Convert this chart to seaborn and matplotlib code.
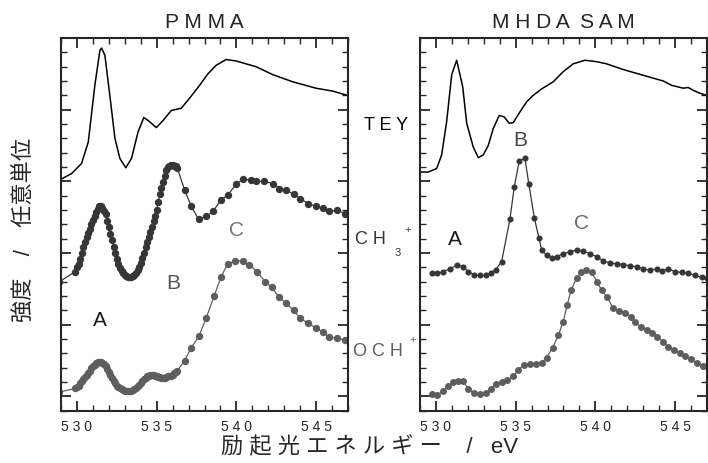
import seaborn as sns
import matplotlib.pyplot as plt
import numpy as np
import pandas as pd
from matplotlib.ticker import MultipleLocator, FuncFormatter

# ---- data (eV, intensity in arbitrary units) ----
# PMMA, TEY
pmma_tey_x = [529.0, 529.67, 530.29, 530.71, 531.12, 531.44, 531.54, 531.75, 532.06, 532.38,
              532.69, 533.06, 533.42, 533.83, 534.19, 534.46, 534.98, 535.4, 535.92, 536.54,
              537.06, 537.69, 538.21, 538.73, 539.35, 539.98, 540.6, 541.23, 542.27, 543.52,
              544.98, 546.02, 546.96]
pmma_tey_y = [3.03, 3.11, 3.25, 3.55, 4.34, 4.83, 4.86, 4.76, 4.20, 3.60,
              3.32, 3.19, 3.32, 3.69, 3.89, 3.85, 3.75, 3.85, 3.99, 4.02,
              4.16, 4.34, 4.50, 4.62, 4.70, 4.68, 4.64, 4.60, 4.49, 4.39,
              4.30, 4.26, 4.20]

# PMMA, CH3+
pmma_ch3_x = [528.9, 529.88, 530.0, 530.1, 530.2, 530.3, 530.4, 530.5, 530.6, 530.7, 530.8,
              530.9, 531.0, 531.1, 531.2, 531.3, 531.4, 531.5, 531.6, 531.7, 531.8,
              531.9, 532.0, 532.1, 532.2, 532.3, 532.4, 532.5, 532.6, 532.7, 532.8,
              532.9, 533.0, 533.1, 533.2, 533.3, 533.4, 533.5, 533.6, 533.7, 533.8,
              533.9, 534.0, 534.1, 534.2, 534.3, 534.4, 534.5, 534.6, 534.7, 534.8,
              534.9, 535.0, 535.1, 535.2, 535.3, 535.4, 535.5, 535.6, 535.7, 535.8,
              535.9, 536.0, 536.1, 536.2, 536.3,
              536.75, 537.17, 537.63, 538.1, 538.52, 539.04, 539.46, 539.98, 540.4, 540.9,
              541.25, 541.7, 542.3, 542.7, 543.1, 543.6, 544.0, 544.5, 545.0, 545.4,
              545.8, 546.3, 546.8]
pmma_ch3_y = [1.60, 1.74, 1.80, 1.85, 1.92, 2.00, 2.08, 2.16, 2.22, 2.28, 2.34,
              2.40, 2.46, 2.52, 2.57, 2.62, 2.65, 2.65, 2.63, 2.59, 2.54,
              2.45, 2.36, 2.27, 2.18, 2.09, 2.00, 1.92, 1.85, 1.79, 1.75,
              1.72, 1.69, 1.68, 1.67, 1.67, 1.67, 1.68, 1.70, 1.72, 1.76,
              1.81, 1.86, 1.93, 2.00, 2.08, 2.16, 2.23, 2.30, 2.37, 2.44,
              2.52, 2.60, 2.71, 2.82, 2.91, 2.99, 3.08, 3.16, 3.20, 3.22,
              3.23, 3.23, 3.22, 3.21, 3.18,
              2.88, 2.65, 2.47, 2.51, 2.58, 2.74, 2.81, 2.96, 3.03, 3.02,
              3.00, 3.00, 2.97, 2.90, 2.88, 2.82, 2.76, 2.69, 2.65, 2.63,
              2.58, 2.60, 2.55]

# PMMA, OCH+
pmma_och_x = [528.9, 529.88, 530.0, 530.1, 530.2, 530.3, 530.4, 530.5, 530.6, 530.7, 530.8,
              530.9, 531.0, 531.1, 531.2, 531.3, 531.4, 531.5, 531.6, 531.7, 531.8,
              531.9, 532.0, 532.1, 532.2, 532.3, 532.4, 532.5, 532.6, 532.7, 532.8,
              532.9, 533.0, 533.1, 533.2, 533.3, 533.4, 533.5, 533.6, 533.7, 533.8,
              533.9, 534.0, 534.1, 534.2, 534.3, 534.4, 534.5, 534.6, 534.7, 534.8,
              534.9, 535.0, 535.1, 535.2, 535.3, 535.4, 535.5, 535.6, 535.7, 535.8,
              535.9, 536.0, 536.1, 536.2, 536.3,
              536.75, 537.17, 537.65, 538.1, 538.6, 539.04, 539.46, 539.94, 540.4, 540.8,
              541.3, 541.8, 542.2, 542.7, 543.1, 543.6, 544.0, 544.5, 545.0, 545.4,
              545.8, 546.3, 546.8]
pmma_och_y = [0.06, 0.11, 0.13, 0.15, 0.18, 0.21, 0.24, 0.27, 0.30, 0.33, 0.36,
              0.39, 0.42, 0.44, 0.46, 0.48, 0.48, 0.48, 0.47, 0.45, 0.42,
              0.38, 0.34, 0.30, 0.26, 0.22, 0.18, 0.15, 0.13, 0.11, 0.10,
              0.09, 0.08, 0.07, 0.07, 0.07, 0.08, 0.09, 0.10, 0.12, 0.14,
              0.16, 0.19, 0.21, 0.24, 0.26, 0.28, 0.29, 0.30, 0.30, 0.30,
              0.29, 0.28, 0.27, 0.27, 0.26, 0.26, 0.26, 0.27, 0.28, 0.28,
              0.29, 0.30, 0.32, 0.34, 0.36,
              0.50, 0.68, 0.84, 1.09, 1.40, 1.67, 1.85, 1.89, 1.89, 1.84,
              1.74, 1.60, 1.52, 1.38, 1.30, 1.20, 1.09, 1.02, 0.95, 0.90,
              0.83, 0.81, 0.79]

# MHDA SAM, TEY
sam_tey_x = [529.0, 529.52, 530.05, 530.36, 530.67, 530.99, 531.3, 531.68, 531.93, 532.34,
             532.66, 532.97, 533.28, 533.6, 533.97, 534.27, 534.6, 534.85, 535.27, 535.69,
             536.1, 536.63, 537.36, 537.98, 538.61, 539.34, 540.08, 540.7, 541.75, 543.0,
             544.26, 544.78, 545.51, 545.82, 546.14, 546.55, 546.97]
sam_tey_y = [3.13, 3.13, 3.18, 3.37, 3.83, 4.49, 4.69, 4.32, 3.81, 3.48,
             3.33, 3.37, 3.50, 3.74, 3.92, 3.90, 3.81, 3.82, 3.97, 4.11,
             4.20, 4.29, 4.39, 4.53, 4.64, 4.69, 4.67, 4.64, 4.56, 4.48,
             4.40, 4.34, 4.30, 4.31, 4.27, 4.23, 4.20]

# MHDA SAM, CH3+
sam_ch3_x = [529.73, 530.08, 530.46, 530.88, 531.3, 531.68, 532.03, 532.39, 532.76, 533.14,
             533.43, 533.76, 534.12, 534.64, 534.91, 535.23, 535.58, 535.83, 536.17, 536.46,
             536.63, 536.94, 537.26, 537.57, 537.98, 538.4, 538.82, 539.24, 539.66, 540.08,
             540.5, 540.91, 541.33, 541.75, 542.17, 542.59, 543.0, 543.42, 543.84, 544.15,
             544.57, 544.99, 545.41, 545.82, 546.24, 546.66, 546.97]
sam_ch3_y = [1.72, 1.72, 1.74, 1.78, 1.83, 1.81, 1.74, 1.70, 1.69, 1.69,
             1.72, 1.77, 1.88, 2.47, 2.92, 3.29, 3.32, 2.96, 2.49, 2.21,
             2.04, 1.97, 1.93, 1.95, 1.99, 2.02, 2.04, 2.03, 1.99, 1.95,
             1.89, 1.86, 1.85, 1.84, 1.82, 1.81, 1.78, 1.76, 1.78, 1.75,
             1.78, 1.74, 1.73, 1.72, 1.69, 1.66, 1.65]

# MHDA SAM, OCH+
sam_och_x = [529.73, 530.08, 530.42, 530.78, 531.09, 531.4, 531.72, 532.03, 532.39, 532.76,
             533.14, 533.43, 533.76, 534.12, 534.47, 534.85, 535.16, 535.52, 535.9, 536.26,
             536.63, 536.94, 537.32, 537.67, 537.98, 538.23, 538.47, 538.82, 539.09, 539.4,
             539.76, 540.11, 540.39, 540.74, 541.12, 541.5, 541.85, 542.21, 542.48, 542.84,
             543.21, 543.53, 543.88, 544.26, 544.57, 544.93, 545.3, 545.61, 545.97, 546.35,
             546.76]
sam_och_y = [0.03, 0.02, 0.07, 0.14, 0.20, 0.22, 0.21, 0.10, 0.05, 0.03,
             0.05, 0.10, 0.17, 0.20, 0.23, 0.28, 0.37, 0.44, 0.45, 0.45,
             0.47, 0.54, 0.68, 0.85, 1.04, 1.27, 1.48, 1.65, 1.73, 1.76,
             1.73, 1.60, 1.48, 1.38, 1.23, 1.19, 1.16, 1.11, 1.04, 0.97,
             0.93, 0.88, 0.83, 0.76, 0.69, 0.65, 0.60, 0.57, 0.52, 0.47,
             0.42]

panel_titles = ['P M M A', 'M H D A  S A M']
ch3_color = '#363636'
och_color = '#5e5e5e'

sns.set_style('ticks')
plt.rcParams['font.family'] = ['Liberation Sans', 'Noto Sans CJK JP', 'DejaVu Sans']
plt.rcParams['axes.linewidth'] = 1.5

fig = plt.figure(figsize=(7.08, 4.64), dpi=100)
ax1 = fig.add_axes([0.0862, 0.1127, 0.4054, 0.8032])
ax2 = fig.add_axes([0.5932, 0.1127, 0.4054, 0.8032])

# (axes, tey, ch3, och, marker sizes)
panels = [
    (ax1, pmma_tey_x, pmma_tey_y, pmma_ch3_x, pmma_ch3_y, pmma_och_x, pmma_och_y, 5.3, 5.3),
    (ax2, sam_tey_x, sam_tey_y, sam_ch3_x, sam_ch3_y, sam_och_x, sam_och_y, 4.4, 5.0),
]

for i, (ax, tx, ty, cx, cy, ox, oy, ms_c, ms_o) in enumerate(panels):
    sns.lineplot(x=tx, y=ty, ax=ax, color='black', linewidth=1.1, estimator=None)
    sns.lineplot(x=cx, y=cy, ax=ax, color=ch3_color, linewidth=0.9, estimator=None,
                 marker='o', markersize=ms_c, markeredgewidth=0)
    sns.lineplot(x=ox, y=oy, ax=ax, color=och_color, linewidth=0.9, estimator=None,
                 marker='o', markersize=ms_o, markeredgewidth=0)
    ax.set_xlim(529, 547)
    ax.set_ylim(-0.2, 5.0)
    ax.xaxis.set_major_locator(MultipleLocator(5))
    ax.xaxis.set_minor_locator(MultipleLocator(1))
    ax.yaxis.set_major_locator(MultipleLocator(1))
    ax.yaxis.set_minor_locator(MultipleLocator(0.2))
    ax.xaxis.set_major_formatter(FuncFormatter(lambda v, p: ' '.join(str(int(round(v))))))
    ax.tick_params(which='both', direction='in', top=True, right=True, labelleft=False,
                   labelsize=10, pad=6)
    ax.tick_params(which='major', length=7, width=1.3)
    ax.tick_params(which='minor', length=4, width=1.0)
    ax.set_xlabel('')
    ax.set_ylabel('')
    ax.set_title(panel_titles[i], fontsize=15, pad=8)

# peak labels
ax1.text(0.136, 0.246, 'A', transform=ax1.transAxes, fontsize=15, color='#1a1a1a', ha='center', va='center')
ax1.text(0.390, 0.343, 'B', transform=ax1.transAxes, fontsize=15, color='#555555', ha='center', va='center')
ax1.text(0.613, 0.485, 'C', transform=ax1.transAxes, fontsize=15, color='#777777', ha='center', va='center')
ax2.text(0.122, 0.461, 'A', transform=ax2.transAxes, fontsize=15, color='#1a1a1a', ha='center', va='center')
ax2.text(0.348, 0.729, 'B', transform=ax2.transAxes, fontsize=15, color='#444444', ha='center', va='center')
ax2.text(0.564, 0.504, 'C', transform=ax2.transAxes, fontsize=15, color='#6a6a6a', ha='center', va='center')

# curve labels between panels
fig.text(408 / 708, 1 - 126 / 464, 'T E Y', fontsize=13, color='black', ha='right', va='center')
fig.text(355 / 708, 1 - 240 / 464, 'C H', fontsize=13, color=ch3_color, ha='left', va='center')
fig.text(398 / 708, 1 - 253 / 464, '3', fontsize=8, color=ch3_color, ha='center', va='center')
fig.text(408 / 708, 1 - 230 / 464, '+', fontsize=8, color=ch3_color, ha='center', va='center')
fig.text(353 / 708, 1 - 351 / 464, 'O C H', fontsize=13, color=och_color, ha='left', va='center')
fig.text(413 / 708, 1 - 340 / 464, '+', fontsize=8, color=och_color, ha='center', va='center')

# axis labels
fig.text(370 / 708, 1 - 447 / 464, '励 起 光 エ ネ ル ギ ー    /   eV', fontsize=16,
         ha='center', va='center')
fig.text(25 / 708, 1 - 230 / 464, '強度　/　任意単位', fontsize=16, rotation=90,
         ha='center', va='center')

fig.savefig('out.png', dpi=100)
